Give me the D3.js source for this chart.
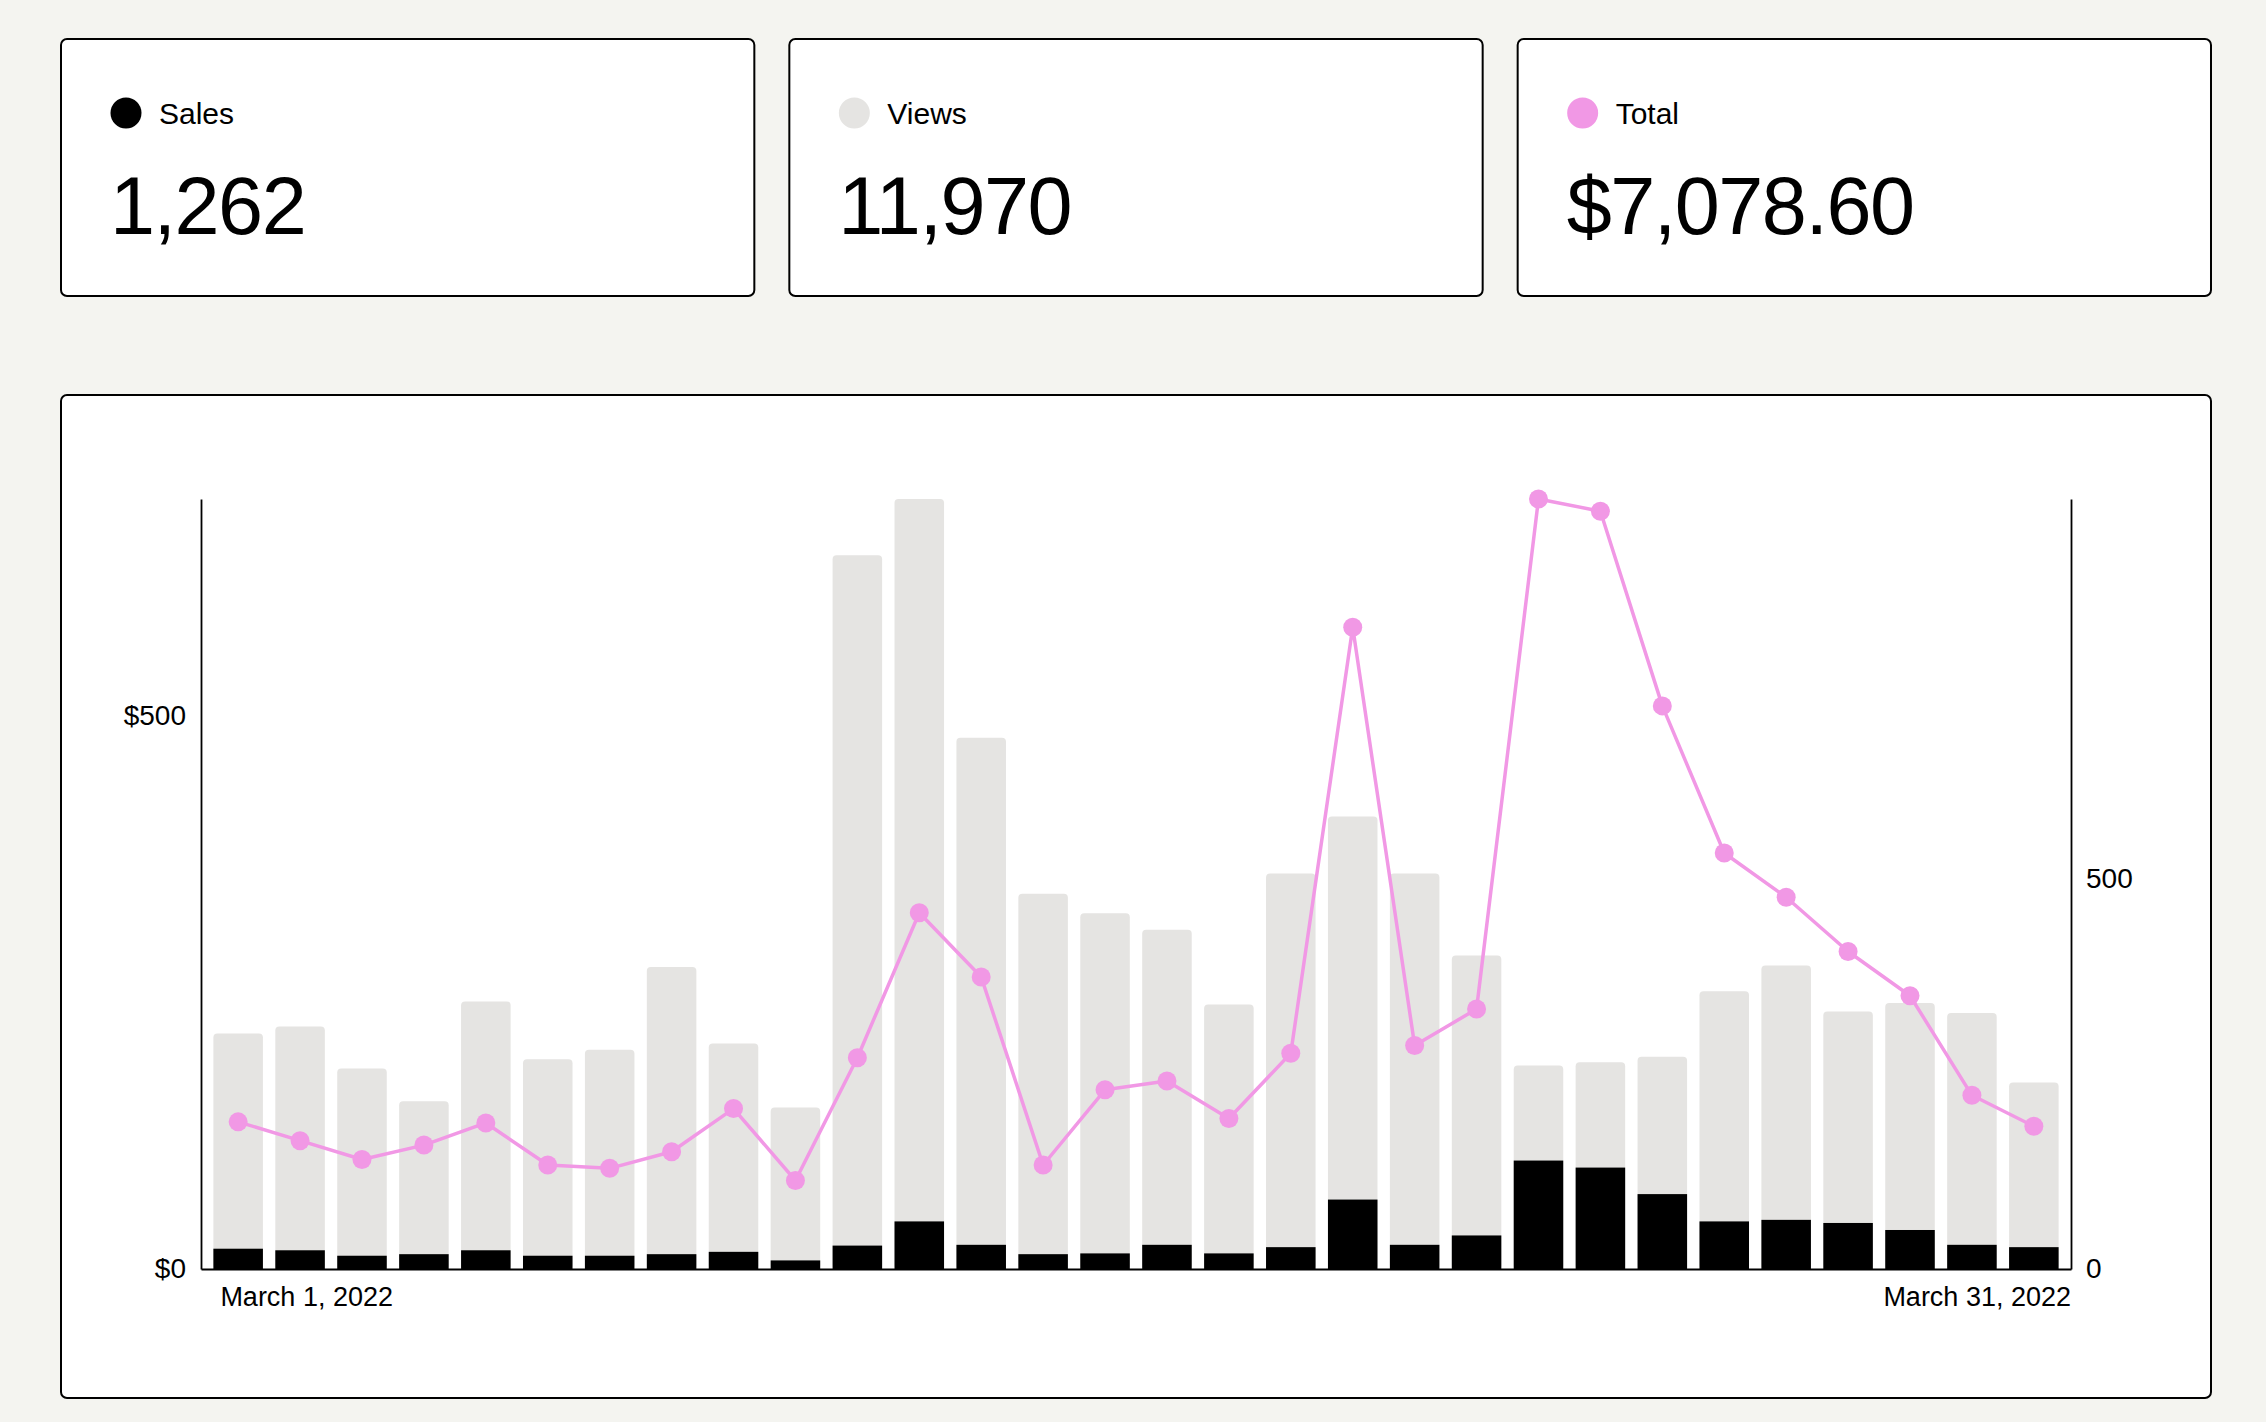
<!DOCTYPE html>
<html>
<head>
<meta charset="utf-8">
<script src="https://cdn.jsdelivr.net/npm/d3@7"></script>
<style>
  html, body { margin: 0; padding: 0; background: #f4f4f0; }
  svg { display: block; font-family: "Liberation Sans", Arial, sans-serif; }
</style>
</head>
<body>
<div id="dashboard"></div>
<script>
// Data (30 daily points, March 2022)
const days = [
  "2022-03-01", "2022-03-02", "2022-03-03", "2022-03-04", "2022-03-05",
  "2022-03-06", "2022-03-07", "2022-03-08", "2022-03-09", "2022-03-10",
  "2022-03-11", "2022-03-12", "2022-03-13", "2022-03-14", "2022-03-15",
  "2022-03-16", "2022-03-17", "2022-03-18", "2022-03-19", "2022-03-20",
  "2022-03-21", "2022-03-22", "2022-03-23", "2022-03-24", "2022-03-25",
  "2022-03-26", "2022-03-27", "2022-03-28", "2022-03-29", "2022-03-30"
];
const views = [302, 311, 257, 215, 343, 269, 281, 387, 289, 207,
               915, 987, 681, 481, 456, 435, 339, 507, 580, 507,
               402, 261, 265, 272, 356, 389, 330, 341, 328, 239];
const sales = [26, 24, 17, 19, 24, 17, 17, 19, 22, 11,
               30, 61, 31, 19, 20, 31, 20, 28, 89, 31,
               43, 139, 130, 96, 61, 63, 59, 50, 31, 28];
const totals = [133, 116, 99, 112, 132, 94, 91, 106, 145, 80,
                191, 322, 264, 94, 162, 170, 136, 195, 580, 202,
                235, 696, 685, 509, 376, 336, 287, 247, 157, 129];

// Summary cards
const cardLabels = ["Sales", "Views", "Total"];
const cardValues = ["1,262", "11,970", "$7,078.60"];
const dateLabels = ["March 1, 2022", "March 31, 2022"];
const leftTicks = [0, 500];
const rightTicks = [0, 500];

/*******************************/
/*    Declare the constants    */
/*******************************/
const width = 2266;
const height = 1422;
const black = "#000000";
const gray = "#e5e4e2";
const pink = "#f198e5";
const cardColors = [black, gray, pink];

const pageLeft = 61;
const pageRight = 2211;
const cardGap = 35;
const cardTop = 39;
const cardHeight = 257;
const cardWidth = (pageRight - pageLeft - 2 * cardGap) / 3;

const chartCard = {x: pageLeft, y: 395, width: pageRight - pageLeft, height: 1003};
const plot = {left: 201, right: 2071, top: 499, bottom: 1269};

const svg = d3.select("#dashboard")
  .append("svg")
    .attr("width", width)
    .attr("height", height)
    .attr("viewBox", `0 0 ${width} ${height}`);

/*******************************/
/*      Append the cards       */
/*******************************/
const cards = svg.selectAll(".card")
  .data(cardLabels)
  .join("g")
    .attr("class", "card")
    .attr("transform", (d, i) => `translate(${pageLeft + i * (cardWidth + cardGap)}, ${cardTop})`);

cards.append("rect")
  .attr("x", 0)
  .attr("y", 0)
  .attr("width", cardWidth)
  .attr("height", cardHeight)
  .attr("rx", 6)
  .attr("fill", "#ffffff")
  .attr("stroke", black)
  .attr("stroke-width", 2);

cards.append("circle")
  .attr("cx", 65)
  .attr("cy", 74)
  .attr("r", 15.5)
  .attr("fill", (d, i) => cardColors[i]);

cards.append("text")
  .text(d => d)
  .attr("x", 98)
  .attr("y", 85)
  .attr("fill", black)
  .style("font-size", "30px");

cards.append("text")
  .text((d, i) => cardValues[i])
  .attr("x", 49)
  .attr("y", 195)
  .attr("fill", black)
  .style("font-size", "81px")
  .style("letter-spacing", "-1.5px");

/*******************************/
/*      Append the chart       */
/*******************************/
svg.append("rect")
  .attr("x", chartCard.x)
  .attr("y", chartCard.y)
  .attr("width", chartCard.width)
  .attr("height", chartCard.height)
  .attr("rx", 6)
  .attr("fill", "#ffffff")
  .attr("stroke", black)
  .attr("stroke-width", 2);

const data = days.map((d, i) => ({
  day: d,
  views: views[i],
  sales: sales[i],
  total: totals[i]
}));

// Scales
const xScale = d3.scaleBand()
  .domain(days)
  .range([plot.left, plot.right])
  .paddingInner(0.2)
  .paddingOuter(0.2);

const yCount = d3.scaleLinear()
  .domain([0, d3.max(data, d => Math.max(d.views, d.sales))])
  .range([plot.bottom, plot.top]);

const yMoney = d3.scaleLinear()
  .domain([0, d3.max(data, d => d.total)])
  .range([plot.bottom, plot.top]);

// Views bars
svg.append("g")
  .selectAll(".bar-views")
  .data(data)
  .join("rect")
    .attr("class", "bar-views")
    .attr("x", d => xScale(d.day))
    .attr("y", d => yCount(d.views))
    .attr("width", xScale.bandwidth())
    .attr("height", d => yCount(0) - yCount(d.views))
    .attr("rx", 4)
    .attr("fill", gray);

// Sales bars
svg.append("g")
  .selectAll(".bar-sales")
  .data(data)
  .join("rect")
    .attr("class", "bar-sales")
    .attr("x", d => xScale(d.day))
    .attr("y", d => yCount(d.sales))
    .attr("width", xScale.bandwidth())
    .attr("height", d => yCount(0) - yCount(d.sales))
    .attr("fill", black);

// Axes
const axisFont = "28px";

const leftAxis = svg.append("g")
  .attr("transform", `translate(${plot.left}, 0)`)
  .call(d3.axisLeft(yMoney)
    .tickValues(leftTicks)
    .tickSize(0)
    .tickSizeOuter(0)
    .tickPadding(15)
    .tickFormat(d => `$${d}`));

const rightAxis = svg.append("g")
  .attr("transform", `translate(${plot.right}, 0)`)
  .call(d3.axisRight(yCount)
    .tickValues(rightTicks)
    .tickSize(0)
    .tickSizeOuter(0)
    .tickPadding(15));

const bottomAxis = svg.append("g")
  .attr("transform", `translate(0, ${plot.bottom})`)
  .call(d3.axisBottom(xScale)
    .tickValues([])
    .tickSizeOuter(0));

[leftAxis, rightAxis, bottomAxis].forEach(axis => {
  axis.select(".domain")
    .attr("stroke", black)
    .attr("stroke-width", 1.8);
  axis.selectAll("text")
    .attr("fill", black)
    .style("font-family", "'Liberation Sans', Arial, sans-serif")
    .style("font-size", axisFont);
});

// Date labels at both ends
svg.append("text")
  .text(dateLabels[0])
  .attr("x", xScale(days[0]) + 7)
  .attr("y", plot.bottom + 37)
  .attr("fill", black)
  .style("font-size", "27px");

svg.append("text")
  .text(dateLabels[1])
  .attr("text-anchor", "end")
  .attr("x", plot.right)
  .attr("y", plot.bottom + 37)
  .attr("fill", black)
  .style("font-size", "27px");

// Total line + dots
const lineGenerator = d3.line()
  .x(d => xScale(d.day) + xScale.bandwidth() / 2)
  .y(d => yMoney(d.total));

svg.append("path")
  .datum(data)
  .attr("d", lineGenerator)
  .attr("fill", "none")
  .attr("stroke", pink)
  .attr("stroke-width", 3.5)
  .attr("stroke-linejoin", "round");

svg.append("g")
  .selectAll(".dot-total")
  .data(data)
  .join("circle")
    .attr("class", "dot-total")
    .attr("cx", d => xScale(d.day) + xScale.bandwidth() / 2)
    .attr("cy", d => yMoney(d.total))
    .attr("r", 9.5)
    .attr("fill", pink);
</script>
</body>
</html>
